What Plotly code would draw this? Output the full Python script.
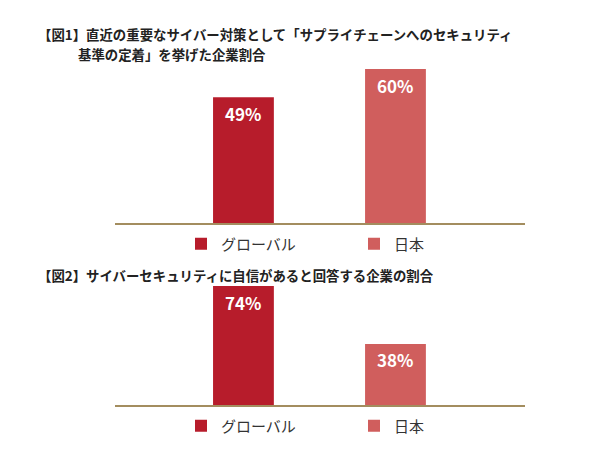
import plotly.graph_objects as go

categories = ["グローバル", "日本"]
fig1_values = [49, 60]
fig2_values = [74, 38]
fig1_title_line1 = "【図1】直近の重要なサイバー対策として「サプライチェーンへのセキュリティ"
fig1_title_line2 = "基準の定着」を挙げた企業割合"
fig2_title = "【図2】サイバーセキュリティに自信があると回答する企業の割合"
colors = ["#b71c2b", "#d05e5d"]

FONT = "Noto Sans CJK JP"
fig = go.Figure()

for i, cat in enumerate(categories):
    fig.add_trace(go.Bar(x=[cat], y=[fig1_values[i]], name=cat, marker=dict(color=colors[i], line=dict(width=0)),
                         width=0.4, xaxis="x", yaxis="y", legend="legend", hoverinfo="skip"))
for i, cat in enumerate(categories):
    fig.add_trace(go.Bar(x=[cat], y=[fig2_values[i]], name=cat, marker=dict(color=colors[i], line=dict(width=0)),
                         width=0.4, xaxis="x2", yaxis="y2", legend="legend2", hoverinfo="skip"))

annotations = []
for i, cat in enumerate(categories):
    annotations.append(dict(x=cat, y=fig1_values[i], xref="x", yref="y", text=f"{fig1_values[i]}%",
                            showarrow=False, yshift=-16, yanchor="middle",
                            font=dict(family=FONT, size=17, color="white", weight="bold")))
    annotations.append(dict(x=cat, y=fig2_values[i], xref="x2", yref="y2", text=f"{fig2_values[i]}%",
                            showarrow=False, yshift=-16, yanchor="middle",
                            font=dict(family=FONT, size=17, color="white", weight="bold")))

title_font = dict(family=FONT, size=13.4, color="#222222", weight="bold")
annotations.append(dict(x=37/600, y=1-34/450, xref="paper", yref="paper", xanchor="left", yanchor="middle",
                        text=fig1_title_line1, showarrow=False, font=title_font, borderpad=0))
annotations.append(dict(x=77/600, y=1-54/450, xref="paper", yref="paper", xanchor="left", yanchor="middle",
                        text=fig1_title_line2, showarrow=False, font=title_font, borderpad=0))
annotations.append(dict(x=37/600, y=1-275/450, xref="paper", yref="paper", xanchor="left", yanchor="middle",
                        text=fig2_title, showarrow=False, font=title_font, borderpad=0))

xr = [-0.845, 1.852]
axis_common = dict(range=xr, showline=True, linecolor="#a38d5f", linewidth=2, showticklabels=False,
                   ticks="", showgrid=False, zeroline=False, fixedrange=True)
legend_common = dict(orientation="h", xanchor="left", yanchor="middle", entrywidth=128,
                     font=dict(family=FONT, size=15, color="#333333"), bgcolor="rgba(0,0,0,0)")

fig.update_layout(
    width=600, height=450, margin=dict(l=0, r=0, t=0, b=0),
    paper_bgcolor="white", plot_bgcolor="white", barmode="overlay",
    xaxis=dict(domain=[115/600, 525/600], anchor="y", **axis_common),
    yaxis=dict(domain=[1-223/450, 1-69/450], range=[0, 60], visible=False, fixedrange=True),
    xaxis2=dict(domain=[115/600, 525/600], anchor="y2", **axis_common),
    yaxis2=dict(domain=[1-405/450, 1-286/450], range=[0, 74], visible=False, fixedrange=True),
    legend=dict(x=181/600, y=1-244/450, **legend_common),
    legend2=dict(x=181/600, y=1-426/450, **legend_common),
    annotations=annotations,
)

fig.write_html("out.html", config={"displayModeBar": False},
               post_script="document.body.style.margin='0';")
